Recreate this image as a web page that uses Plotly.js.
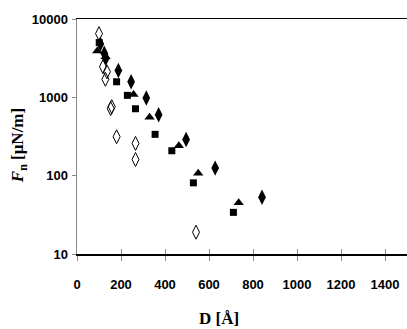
<!DOCTYPE html>
<html><head><meta charset="utf-8">
<script src="https://cdn.plot.ly/plotly-3.0.1.min.js"></script>
<style>html,body{margin:0;padding:0;background:#fff}#c{width:407px;height:329px}</style>
</head><body><div id="c"></div>
<script>
// Open diamonds
const openDiamondD = [100, 118, 136, 129, 153, 158, 180, 266, 266, 541];
const openDiamondF = [6500, 2460, 2120, 1700, 720, 760, 314, 258, 161, 19];
// Filled diamonds
const diamondD = [106, 124, 131, 188, 246, 315, 371, 496, 628, 841];
const diamondF = [4800, 3650, 3150, 2200, 1580, 980, 600, 290, 125, 53];
// Filled triangles
const triangleD = [92, 130, 257, 330, 463, 551, 735];
const triangleF = [3900, 3300, 1090, 556, 241, 107, 45];
// Filled squares
const squareD = [101, 180, 229, 266, 355, 431, 529, 711];
const squareF = [5000, 1580, 1060, 715, 337, 208, 81, 34];

const xTicks = [0, 200, 400, 600, 800, 1000, 1200, 1400];
const yTicks = [10, 100, 1000, 10000];

const tickFont = {family: '"Liberation Sans", Arial, sans-serif', size: 13, color: '#000', weight: 'bold'};

const traces = [
  {x: openDiamondD, y: openDiamondF, mode: 'markers', type: 'scatter',
   marker: {symbol: 'diamond-tall-open', size: 10, color: '#000', line: {width: 1, color: '#000'}}},
  {x: diamondD, y: diamondF, mode: 'markers', type: 'scatter',
   marker: {symbol: 'diamond-tall', size: 11, color: '#000'}},
  {x: triangleD, y: triangleF, mode: 'markers', type: 'scatter',
   marker: {symbol: 'triangle-up', size: 9, color: '#000'}},
  {x: squareD, y: squareF, mode: 'markers', type: 'scatter',
   marker: {symbol: 'square', size: 7, color: '#000'}}
];

const layout = {
  width: 407, height: 329,
  margin: {l: 77, r: 0, t: 19, b: 75},
  paper_bgcolor: '#fff', plot_bgcolor: '#fff',
  showlegend: false,
  xaxis: {
    range: [0, 1500], tickvals: xTicks, ticktext: xTicks.map(String),
    showgrid: false, zeroline: false,
    showline: true, linecolor: '#000', linewidth: 1.5, mirror: true,
    ticks: 'outside', ticklen: 5, tickcolor: '#888', tickwidth: 1,
    ticklabelstandoff: 13, tickfont: tickFont
  },
  xaxis2: {
    range: [0, 1500], tickvals: xTicks, overlaying: 'x', anchor: 'y',
    showgrid: false, zeroline: false, showline: false, showticklabels: false,
    ticks: 'inside', ticklen: 5, tickcolor: '#888', tickwidth: 1, side: 'bottom'
  },
  yaxis: {
    type: 'log', range: [1, 4], tickvals: yTicks, ticktext: yTicks.map(String),
    showgrid: false, zeroline: false,
    showline: true, linecolor: '#888', linewidth: 1.5,
    ticks: 'outside', ticklen: 4, tickcolor: '#888', tickwidth: 1,
    ticklabelstandoff: 1, tickfont: tickFont
  },
  annotations: [
    {text: '<i>F</i><sub>n</sub> [μN/m]', xref: 'paper', yref: 'paper',
     x: -0.175, y: 0.46, xanchor: 'center', yanchor: 'middle', textangle: -90, showarrow: false,
     font: {family: '"Liberation Serif", "Times New Roman", serif', size: 17, color: '#000', weight: 'bold'}},
    {text: 'D [Å]', xref: 'paper', yref: 'paper',
     x: 0.43, y: -0.275, xanchor: 'center', yanchor: 'middle', showarrow: false,
     font: {family: '"Liberation Serif", "Times New Roman", serif', size: 17, color: '#000', weight: 'bold'}}
  ]
};

// empty trace so the overlaid axis (inner halves of the crossing x ticks) is drawn
traces.push({x: [], y: [], xaxis: 'x2', yaxis: 'y', type: 'scatter', mode: 'markers', hoverinfo: 'skip'});

Plotly.newPlot('c', traces, layout, {displayModeBar: false, staticPlot: true});
</script></body></html>
